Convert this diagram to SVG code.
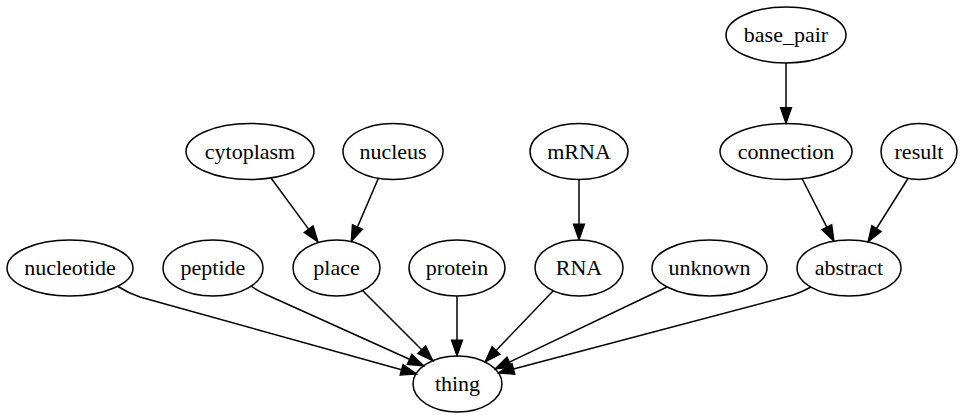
<svg xmlns="http://www.w3.org/2000/svg" width="960" height="415" viewBox="0 0 960 415">
<style>
.node ellipse{fill:none;stroke:#000;stroke-width:1.5}
.node text{font-family:'Liberation Serif','Times New Roman',serif;font-size:22px;text-anchor:middle;fill:#000}
.edge path{fill:none;stroke:#000;stroke-width:1.5}
</style>
<defs>
<marker id="ah" markerUnits="userSpaceOnUse" viewBox="-1 -7 18 14" markerWidth="18" markerHeight="14" refX="0" refY="0" orient="auto">
<path d="M0,-5.6 L16,0 L0,5.6 Z" fill="#000" stroke="#000" stroke-width="1.2"/>
</marker>
</defs>
<rect width="960" height="415" fill="#fff"/>
<g id="edges" class="edge">
<path d="M786,63 L786,107.5" marker-end="url(#ah)"/>
<path d="M579,179.5 L579,224" marker-end="url(#ah)"/>
<path d="M271,178 L308.6,229.1" marker-end="url(#ah)"/>
<path d="M378.5,178 L357.5,226.9" marker-end="url(#ah)"/>
<path d="M802,178.5 Q814,202 826.8,227.2" marker-end="url(#ah)"/>
<path d="M908,178.5 L876.5,228.5" marker-end="url(#ah)"/>
<path d="M457,296 L457,340" marker-end="url(#ah)"/>
<path d="M118,286.5 Q128,293 140,297 L401.5,369.8" marker-end="url(#ah)"/>
<path d="M251,286 Q258,291 266,294.5 L409.5,359.3" marker-end="url(#ah)"/>
<path d="M362.5,290.5 L421.7,349.7" marker-end="url(#ah)"/>
<path d="M553.5,290.5 L496.1,350.4" marker-end="url(#ah)"/>
<path d="M667,287 L509.4,362.1" marker-end="url(#ah)"/>
<path d="M811,287 Q802,292 793,295 L513.5,368.9" marker-end="url(#ah)"/>
</g>
<g id="base_pair" class="node"><ellipse cx="786" cy="35" rx="60" ry="28"/><text x="786" y="42">base_pair</text></g>
<g id="cytoplasm" class="node"><ellipse cx="250" cy="151.5" rx="64" ry="28"/><text x="250" y="158.5">cytoplasm</text></g>
<g id="nucleus" class="node"><ellipse cx="393" cy="151.5" rx="50" ry="28"/><text x="393" y="158.5">nucleus</text></g>
<g id="mRNA" class="node"><ellipse cx="579" cy="151.5" rx="49" ry="28"/><text x="579" y="158.5">mRNA</text></g>
<g id="connection" class="node"><ellipse cx="786" cy="151.5" rx="66" ry="28"/><text x="786" y="158.5">connection</text></g>
<g id="result" class="node"><ellipse cx="919" cy="151.5" rx="38" ry="28"/><text x="919" y="158.5">result</text></g>
<g id="nucleotide" class="node"><ellipse cx="70" cy="268" rx="63" ry="28"/><text x="70" y="275">nucleotide</text></g>
<g id="peptide" class="node"><ellipse cx="213" cy="268" rx="50" ry="28"/><text x="213" y="275">peptide</text></g>
<g id="place" class="node"><ellipse cx="336.5" cy="268" rx="43.5" ry="28"/><text x="336.5" y="275">place</text></g>
<g id="protein" class="node"><ellipse cx="457" cy="268" rx="48" ry="28"/><text x="457" y="275">protein</text></g>
<g id="RNA" class="node"><ellipse cx="579" cy="268" rx="44" ry="28"/><text x="579" y="275">RNA</text></g>
<g id="unknown" class="node"><ellipse cx="709.5" cy="268" rx="57.5" ry="28"/><text x="709.5" y="275">unknown</text></g>
<g id="abstract" class="node"><ellipse cx="849" cy="268" rx="52" ry="28"/><text x="849" y="275">abstract</text></g>
<g id="thing" class="node"><ellipse cx="457.5" cy="384" rx="44.5" ry="28"/><text x="457.5" y="391">thing</text></g>
</svg>
